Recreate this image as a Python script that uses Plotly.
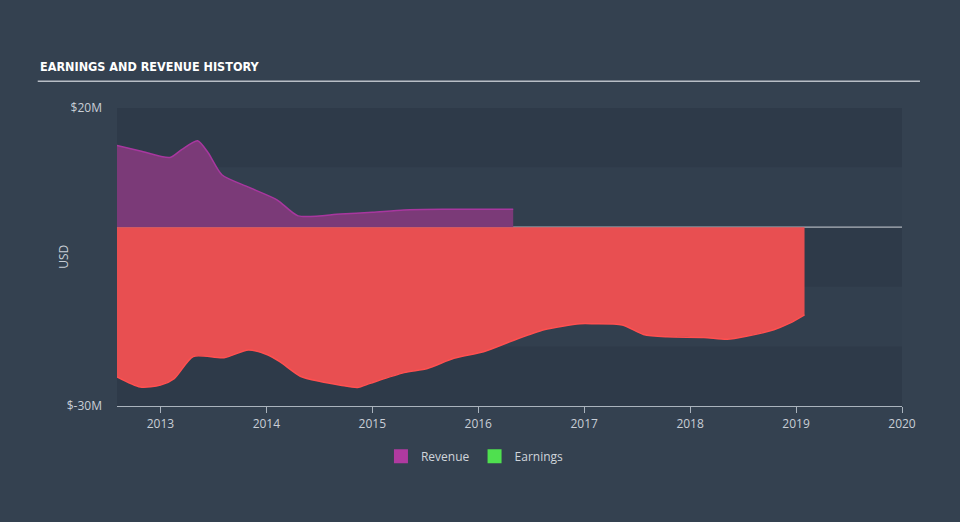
import plotly.graph_objects as go

# Data (USD millions), x in decimal years
rev_x = [2012.59, 2012.81, 2013.09, 2013.20, 2013.35, 2013.45, 2013.58, 2013.82, 2014.10, 2014.30, 2014.70, 2015.00, 2015.30, 2015.70, 2016.33]
rev_y = [13.7, 12.8, 11.7, 13.0, 14.5, 12.5, 8.8, 6.8, 4.6, 1.9, 2.2, 2.5, 2.9, 3.0, 3.0]

earn_x = [2012.59, 2012.81, 2013.00, 2013.13, 2013.31, 2013.60, 2013.83, 2014.01, 2014.13, 2014.32, 2014.51, 2014.70, 2014.86, 2014.98,
          2015.30, 2015.52, 2015.77, 2016.05, 2016.33, 2016.62, 2016.96, 2017.09, 2017.36, 2017.56, 2017.78, 2018.13, 2018.35,
          2018.53, 2018.79, 2018.94, 2019.08]
earn_y = [-25.1, -26.8, -26.5, -25.4, -21.7, -21.9, -20.6, -21.4, -22.6, -25.0, -25.9, -26.5, -26.9, -26.2,
          -24.4, -23.7, -22.0, -20.9, -19.0, -17.2, -16.2, -16.2, -16.4, -18.0, -18.4, -18.5, -18.8,
          -18.3, -17.2, -16.1, -14.7]

year_ticks = [2013, 2014, 2015, 2016, 2017, 2018, 2019, 2020]
y_ticks = [20, -30]
y_tick_text = ["$20M", "$-30M"]

fig = go.Figure()

fig.add_trace(go.Scatter(x=rev_x, y=rev_y, mode="lines", fill="tozeroy",
                         line=dict(color="#a8379f", width=1.5, shape="spline", smoothing=0.7),
                         fillcolor="#7b3a78", showlegend=False, hoverinfo="skip"))
fig.add_trace(go.Scatter(x=earn_x, y=earn_y, mode="lines", fill="tozeroy",
                         line=dict(color="#ff5050", width=1.5, shape="spline", smoothing=0.7),
                         fillcolor="#e84f51", showlegend=False, hoverinfo="skip"))

# legend entries
fig.add_trace(go.Scatter(x=[None], y=[None], mode="markers", name="Revenue",
                         marker=dict(symbol="square", size=14, color="#b03aa0")))
fig.add_trace(go.Scatter(x=[None], y=[None], mode="markers", name="Earnings",
                         marker=dict(symbol="square", size=14, color="#4fe04f")))

# background bands
band_colors = ["#2e3a49", "#323f4e", "#2e3a49", "#323f4e", "#2e3a49"]
for i, c in enumerate(band_colors):
    top = 20 - 10 * i
    fig.add_shape(type="rect", xref="paper", yref="y", x0=0, x1=1, y0=top - 10, y1=top,
                  fillcolor=c, line=dict(width=0), layer="below")
fig.add_shape(type="line", xref="paper", yref="y", x0=0, x1=1, y0=0, y1=0,
              line=dict(color="#aeb4bb", width=1.2), layer="below")

# title + underline
fig.add_annotation(text="<b>EARNINGS AND REVENUE HISTORY</b>", xref="paper", yref="paper",
                   x=-0.101, y=1.138, xanchor="left", yanchor="middle", showarrow=False,
                   font=dict(family="DejaVu Sans Condensed", size=12.5, color="#ffffff"))
fig.add_shape(type="line", xref="paper", yref="paper", x0=-0.101, x1=1.0229, y0=1.09, y1=1.09,
              line=dict(color="#b8bec6", width=1.5))

# y axis title
fig.add_annotation(text="USD", xref="paper", yref="paper", x=-0.069, y=0.5,
                   xanchor="center", yanchor="middle", textangle=-90, showarrow=False,
                   font=dict(family="Open Sans", size=12, color="#c8ced6"))

fig.update_layout(
    width=960, height=522,
    margin=dict(l=117, r=58, t=108, b=116),
    paper_bgcolor="#344150",
    plot_bgcolor="#344150",
    font=dict(family="Open Sans", size=12, color="#c8ced6"),
    legend=dict(orientation="h", x=0.456, xanchor="center", y=-0.12, yanchor="top",
                font=dict(size=12, color="#d0d5db"), bgcolor="rgba(0,0,0,0)"),
    xaxis=dict(range=[2012.59, 2020], tickmode="array", tickvals=year_ticks,
               ticktext=[str(t) for t in year_ticks], showgrid=False, zeroline=False,
               showline=True, linecolor="#aab3bd", linewidth=1.2, ticks="outside",
               ticklen=6, tickcolor="#aab3bd", tickfont=dict(size=12, color="#c8ced6")),
    yaxis=dict(range=[-30, 20], tickmode="array", tickvals=y_ticks, ticktext=y_tick_text,
               showgrid=False, zeroline=False, showline=False, ticks="",
               ticklabelstandoff=14,
               tickfont=dict(size=12, color="#c8ced6")),
)

fig.write_html("out.html")
